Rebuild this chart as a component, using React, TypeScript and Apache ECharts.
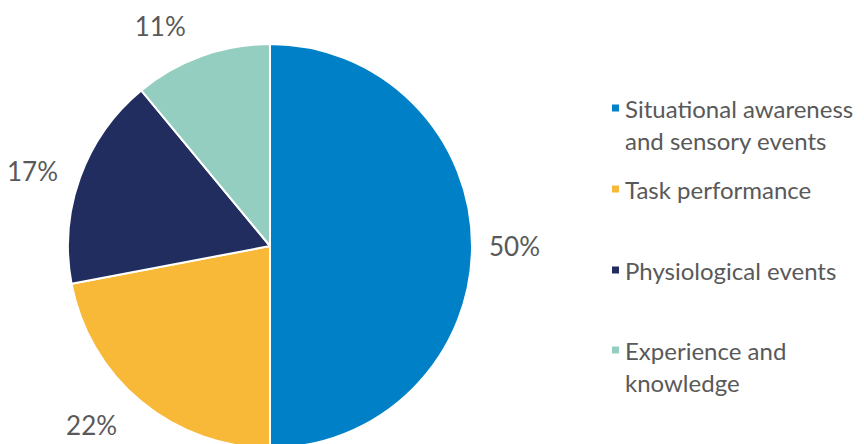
import React, { useEffect, useRef } from "react";
import * as echarts from "echarts";

const categories = [
  "Situational awareness and sensory events",
  "Task performance",
  "Physiological events",
  "Experience and knowledge",
];
const legendLabels = [
  "Situational awareness\nand sensory events",
  "Task performance",
  "Physiological events",
  "Experience and\nknowledge",
];
const values = [50, 22, 17, 11];
const colors = ["#0080C6", "#F9B938", "#222D5F", "#94CEC0"];

export default function App() {
  const ref = useRef<HTMLDivElement>(null);
  useEffect(() => {
    if (!ref.current) return;
    const chart = echarts.init(ref.current, null, { renderer: "svg" });
    const font = "Lato, 'Noto Sans', sans-serif";
    const legendTops = [60, 173, 254, 302];
    const labelLens = [12, 30, 18, 32];
    const legends = categories.map((c, i) => {
      const twoLine = legendLabels[i].includes("\n");
      return {
        data: [c],
        orient: "vertical",
        left: 610,
        top: legendTops[i],
        padding: 0,
        itemWidth: 9,
        itemHeight: 9,
        icon: "rect",
        formatter: () => (twoLine ? " \n" + legendLabels[i] : legendLabels[i]),
        textStyle: {
          fontFamily: font,
          fontSize: 24,
          color: "#595959",
          lineHeight: 32,
        },
      };
    });
    chart.setOption({
      animation: false,
      color: colors,
      legend: legends,
      series: [
        {
          type: "pie",
          center: [270, 246],
          radius: [0, 202],
          startAngle: 90,
          clockwise: true,
          avoidLabelOverlap: false,
          itemStyle: { borderColor: "#ffffff", borderWidth: 2 },
          label: {
            show: true,
            position: "outside",
            formatter: "{c}%",
            fontFamily: font,
            fontSize: 26,
            color: "#595959",
          },
          labelLine: { show: false, length: 26, length2: 0 },
          emphasis: { disabled: true },
          data: categories.map((c, i) => ({
            name: c,
            value: values[i],
            labelLine: { show: false, length: labelLens[i], length2: 0 },
          })),
        },
      ],
    });
    return () => chart.dispose();
  }, []);
  return (
    <div
      ref={ref}
      style={{ position: "fixed", left: 0, top: 0, width: 864, height: 444, background: "#fff" }}
    />
  );
}
